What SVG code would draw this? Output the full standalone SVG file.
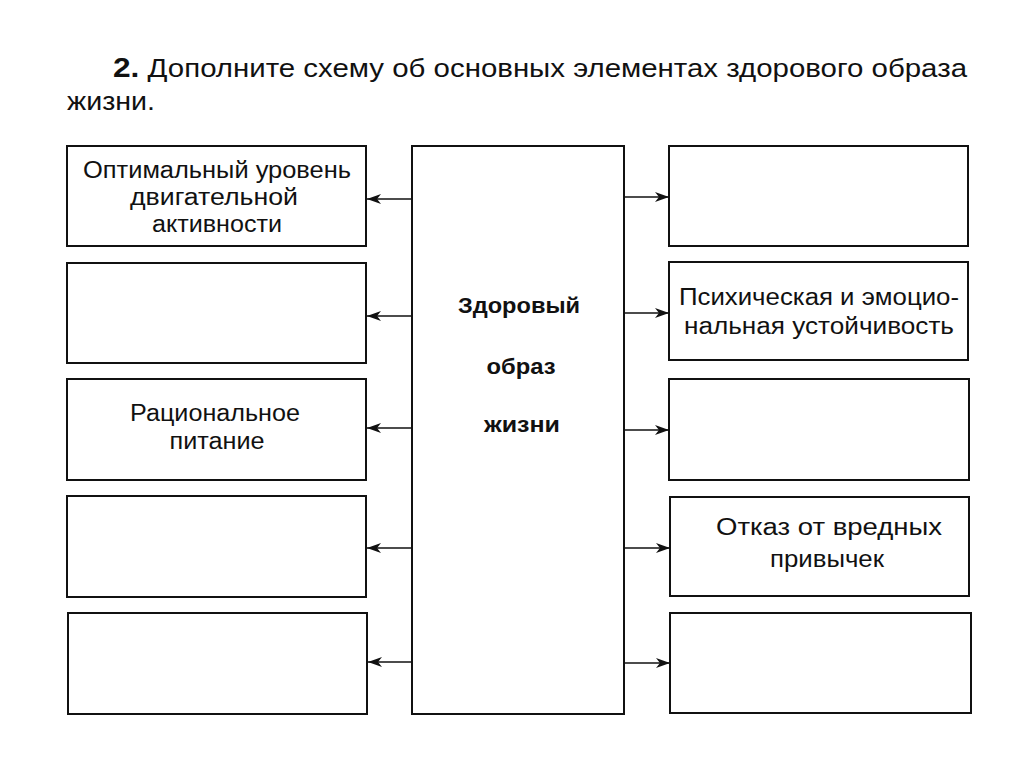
<svg xmlns="http://www.w3.org/2000/svg" width="1024" height="767" viewBox="0 0 1024 767">
<defs>
<marker id="ah" viewBox="0 0 14 10" refX="14" refY="5" markerWidth="14" markerHeight="10" markerUnits="userSpaceOnUse" orient="auto">
<path d="M0,0 L14,5 L0,10 L4,5 Z" fill="#111"/>
</marker>
<style>
.box{fill:#fff;stroke:#111;stroke-width:2}
.t{font-family:"Liberation Sans","Arial",sans-serif;font-size:23px;fill:#111;text-anchor:middle}
.b{font-weight:bold;font-size:22px}
.c{stroke:#111;stroke-width:1.3;fill:none;marker-end:url(#ah)}
.h{font-family:"Liberation Sans","Arial",sans-serif;font-size:26px;fill:#111}
</style>
</defs>
<rect width="1024" height="767" fill="#fff"/>
<g id="title">
<text class="h" x="113" y="77" textLength="854" lengthAdjust="spacingAndGlyphs"><tspan font-weight="bold" font-size="28">2.</tspan> Дополните схему об основных элементах здорового образа</text>
<text class="h" x="67" y="110" textLength="88" lengthAdjust="spacingAndGlyphs">жизни.</text>
</g>
<g id="center">
<rect class="box" x="412" y="146" width="212" height="568"/>
<text class="t b" x="519" y="313" textLength="122" lengthAdjust="spacingAndGlyphs">Здоровый</text>
<text class="t b" x="521" y="374" textLength="69" lengthAdjust="spacingAndGlyphs">образ</text>
<text class="t b" x="522" y="432" textLength="76" lengthAdjust="spacingAndGlyphs">жизни</text>
</g>
<g id="L1"><rect class="box" x="67" y="146" width="299" height="100"/>
<text class="t" x="217" y="178" textLength="268" lengthAdjust="spacingAndGlyphs">Оптимальный уровень</text>
<text class="t" x="214" y="205" textLength="168" lengthAdjust="spacingAndGlyphs">двигательной</text>
<text class="t" x="217" y="232" textLength="130" lengthAdjust="spacingAndGlyphs">активности</text></g>
<g id="L2"><rect class="box" x="67" y="263" width="299" height="100"/></g>
<g id="L3"><rect class="box" x="67" y="379" width="299" height="101"/>
<text class="t" x="215" y="421" textLength="170" lengthAdjust="spacingAndGlyphs">Рациональное</text>
<text class="t" x="217" y="449" textLength="95" lengthAdjust="spacingAndGlyphs">питание</text></g>
<g id="L4"><rect class="box" x="67" y="496" width="299" height="101"/></g>
<g id="L5"><rect class="box" x="68" y="613" width="299" height="101"/></g>
<g id="R1"><rect class="box" x="669" y="146" width="299" height="100"/></g>
<g id="R2"><rect class="box" x="669" y="262" width="299" height="98"/>
<text class="t" x="819" y="305" textLength="280" lengthAdjust="spacingAndGlyphs">Психическая и эмоцио-</text>
<text class="t" x="819" y="334" textLength="270" lengthAdjust="spacingAndGlyphs">нальная устойчивость</text></g>
<g id="R3"><rect class="box" x="669" y="379" width="300" height="101"/></g>
<g id="R4"><rect class="box" x="670" y="497" width="299" height="99"/>
<text class="t" x="829" y="535" textLength="226" lengthAdjust="spacingAndGlyphs">Отказ от вредных</text>
<text class="t" x="827" y="567" textLength="114" lengthAdjust="spacingAndGlyphs">привычек</text></g>
<g id="R5"><rect class="box" x="670" y="613" width="301" height="100"/></g>
<g id="connectors">
<line class="c" x1="412" y1="199" x2="367" y2="199"/>
<line class="c" x1="412" y1="316" x2="367" y2="316"/>
<line class="c" x1="412" y1="428" x2="367" y2="428"/>
<line class="c" x1="412" y1="548" x2="367" y2="548"/>
<line class="c" x1="412" y1="662" x2="368" y2="662"/>
<line class="c" x1="624" y1="197" x2="669" y2="197"/>
<line class="c" x1="624" y1="313" x2="669" y2="313"/>
<line class="c" x1="624" y1="430" x2="669" y2="430"/>
<line class="c" x1="624" y1="548" x2="670" y2="548"/>
<line class="c" x1="624" y1="663" x2="670" y2="663"/>
</g>
</svg>
